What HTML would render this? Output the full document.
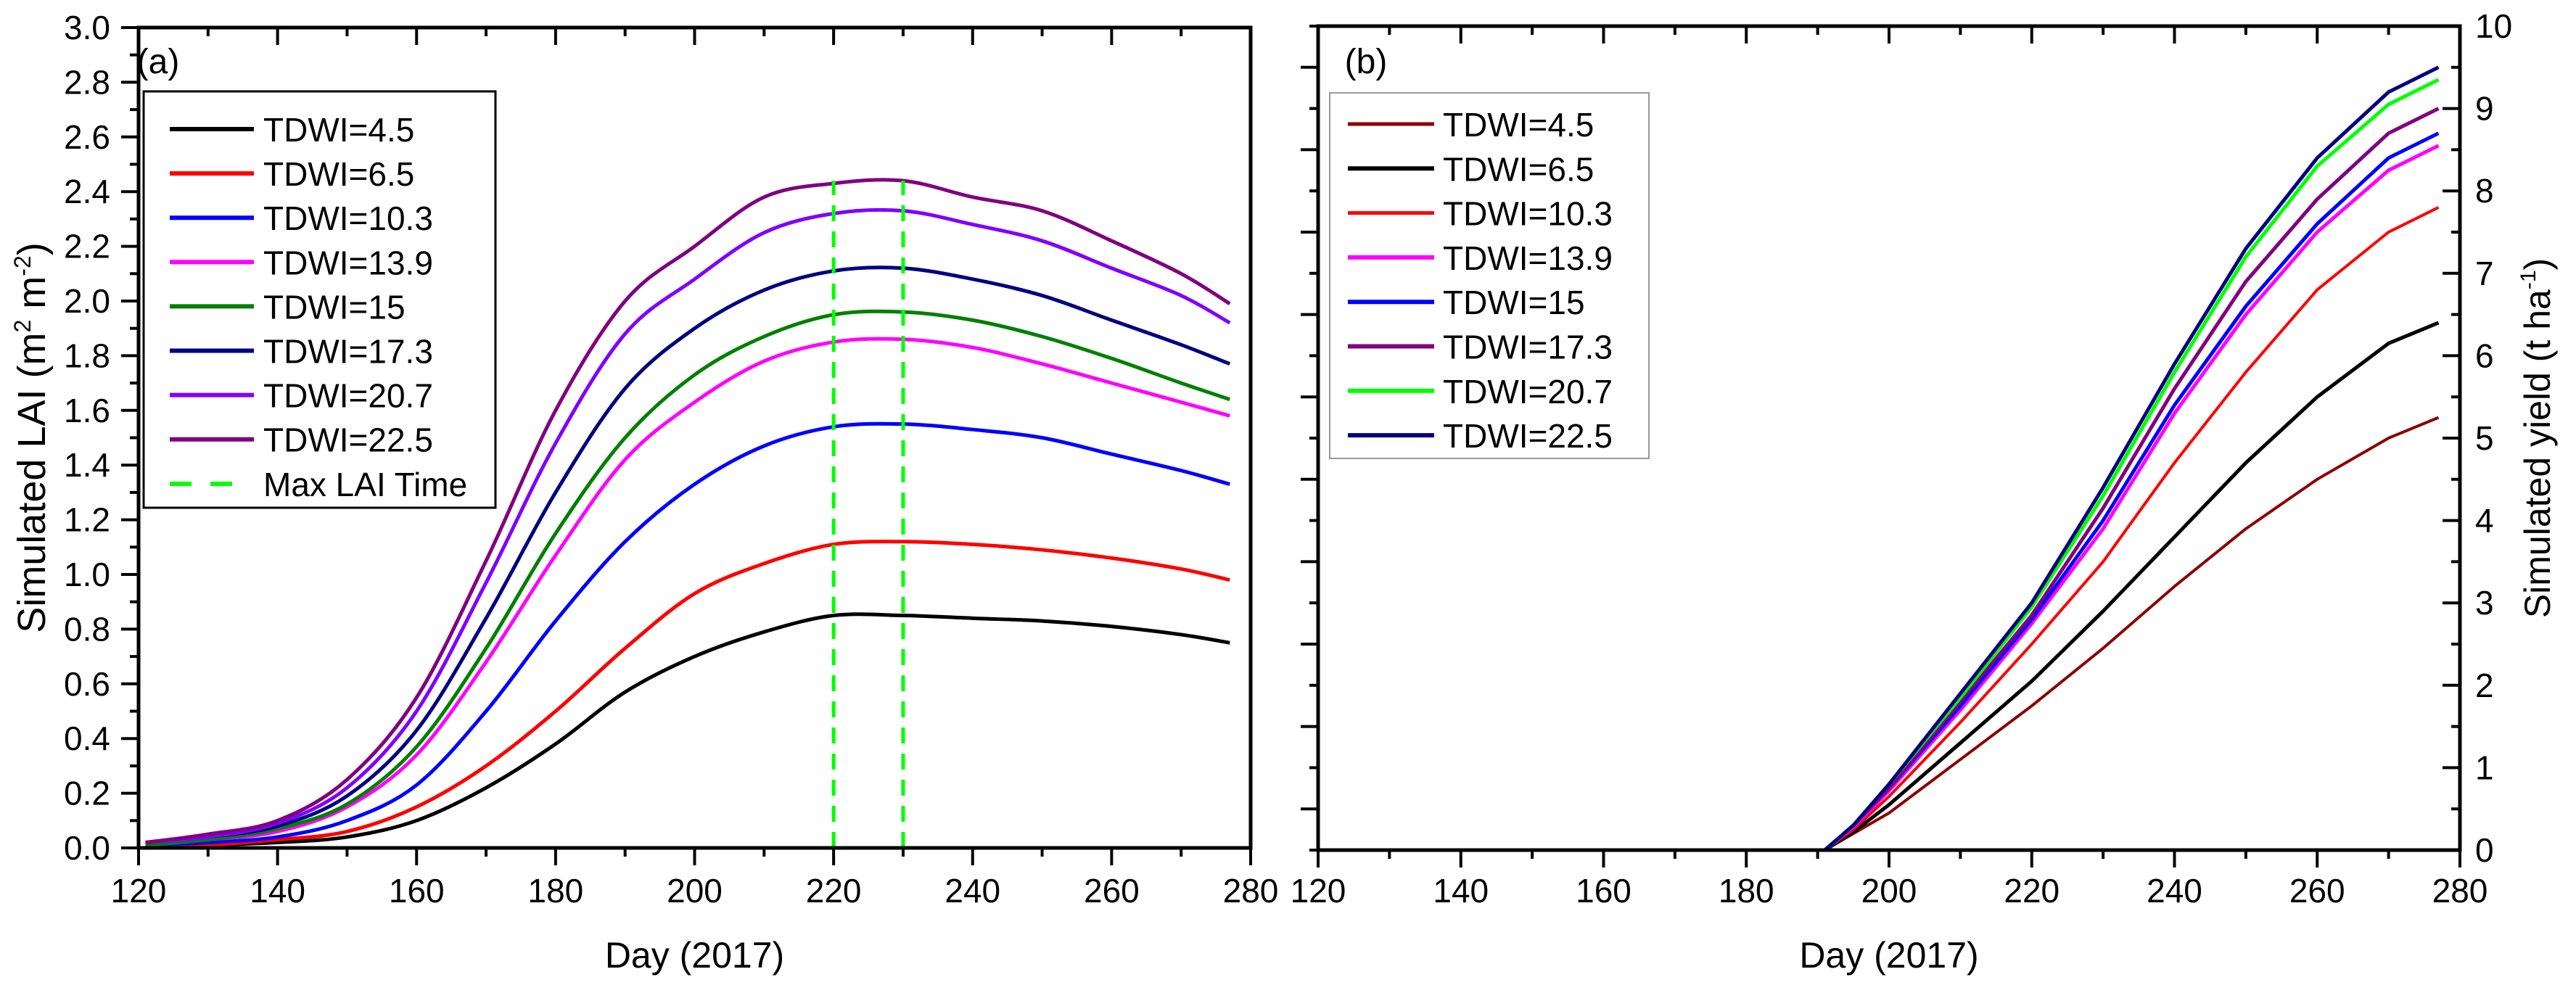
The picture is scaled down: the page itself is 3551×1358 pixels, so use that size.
<!DOCTYPE html>
<html><head><meta charset="utf-8"><style>
html,body{margin:0;padding:0;background:#fff;}
svg{display:block;font-family:"Liberation Sans",sans-serif;}
</style></head><body>
<svg id="c" width="3551" height="1358" viewBox="0 0 3551 1358" xmlns="http://www.w3.org/2000/svg"></svg>
<script>
// ---- Panel (a) data ----
const lai_days=[121,130,140,150,160,170,180,190,200,210,220,230,240,250,260,270,277];
const lai_labels=["TDWI=4.5","TDWI=6.5","TDWI=10.3","TDWI=13.9","TDWI=15","TDWI=17.3","TDWI=20.7","TDWI=22.5"];
const lai_4_5=[0.00,0.01,0.02,0.04,0.10,0.22,0.38,0.57,0.70,0.79,0.85,0.85,0.84,0.83,0.81,0.78,0.75];
const lai_6_5=[0.00,0.01,0.03,0.06,0.15,0.30,0.50,0.73,0.93,1.04,1.11,1.12,1.11,1.09,1.06,1.02,0.98];
const lai_10_3=[0.01,0.02,0.04,0.10,0.23,0.50,0.83,1.12,1.33,1.47,1.54,1.55,1.53,1.50,1.44,1.38,1.33];
const lai_13_9=[0.01,0.03,0.06,0.15,0.34,0.68,1.07,1.42,1.63,1.78,1.85,1.86,1.83,1.77,1.70,1.63,1.58];
const lai_15=[0.01,0.03,0.07,0.16,0.37,0.73,1.15,1.50,1.73,1.87,1.95,1.96,1.93,1.87,1.79,1.70,1.64];
const lai_17_3=[0.02,0.04,0.08,0.19,0.43,0.84,1.30,1.68,1.90,2.04,2.11,2.12,2.08,2.02,1.93,1.84,1.77];
const lai_20_7=[0.02,0.04,0.09,0.22,0.50,0.97,1.48,1.88,2.08,2.25,2.32,2.33,2.28,2.22,2.12,2.02,1.92];
const lai_22_5=[0.02,0.05,0.10,0.25,0.55,1.05,1.60,2.00,2.20,2.38,2.43,2.44,2.38,2.33,2.22,2.10,1.99];
const max_lai_days=[220,230];
const max_lai_value=2.44;
const x_ticks=[120,140,160,180,200,220,240,260,280];
const lai_ticks=[0,0.2,0.4,0.6,0.8,1.0,1.2,1.4,1.6,1.8,2.0,2.2,2.4,2.6,2.8,3.0];
// ---- Panel (b) data ----
const yld_days=[120,191,195,200,210,220,230,240,250,260,270,277];
const yld_4_5=[0,0,0.20,0.45,1.10,1.75,2.45,3.20,3.90,4.50,5.00,5.25];
const yld_6_5=[0,0,0.22,0.55,1.30,2.05,2.90,3.80,4.70,5.50,6.15,6.40];
const yld_10_3=[0,0,0.25,0.65,1.55,2.50,3.50,4.70,5.80,6.80,7.50,7.80];
const yld_13_9=[0,0,0.28,0.72,1.70,2.75,3.90,5.30,6.50,7.50,8.25,8.55];
const yld_15=[0,0,0.30,0.75,1.75,2.80,4.00,5.40,6.60,7.60,8.40,8.70];
const yld_17_3=[0,0,0.30,0.75,1.80,2.85,4.15,5.60,6.90,7.90,8.70,9.00];
const yld_20_7=[0,0,0.30,0.80,1.85,2.95,4.30,5.80,7.20,8.30,9.05,9.35];
const yld_22_5=[0,0,0.30,0.80,1.90,3.00,4.40,5.90,7.30,8.40,9.20,9.50];
const yld_ticks=[0,1,2,3,4,5,6,7,8,9,10];

const NS="http://www.w3.org/2000/svg";
const svg=document.getElementById('c');
function mk(tag,attrs,parent){const e=document.createElementNS(NS,tag);for(const k in attrs)e.setAttribute(k,attrs[k]);(parent||svg).appendChild(e);return e;}
function txt(s,x,y,size,anchor,parent){const t=mk('text',{x:x,y:y,'font-size':size,'text-anchor':anchor||'start',fill:'#000'},parent);t.textContent=s;return t;}
function pathD(xs,ys){let d='';for(let i=0;i<xs.length;i++){if(i===0){d+='M'+xs[0]+','+ys[0];continue;}
 const x0=xs[Math.max(i-2,0)],y0=ys[Math.max(i-2,0)],x1=xs[i-1],y1=ys[i-1],x2=xs[i],y2=ys[i],x3=xs[Math.min(i+1,xs.length-1)],y3=ys[Math.min(i+1,xs.length-1)];
 d+=' C'+(x1+(x2-x0)/6)+','+(y1+(y2-y0)/6)+' '+(x2-(x3-x1)/6)+','+(y2-(y3-y1)/6)+' '+x2+','+y2;}return d;}
function lineD(xs,ys){return xs.map((x,i)=>(i?'L':'M')+x+','+ys[i]).join(' ');}

// ===== Panel A =====
const A={l:191,r:1724,t:38,b:1169,ymax:3};
const ax=d=>A.l+(d-120)/160*(A.r-A.l);
const ay=v=>A.b-v/A.ymax*(A.b-A.t);
const gA=mk('g',{});


const aSeries=[lai_4_5,lai_6_5,lai_10_3,lai_13_9,lai_15,lai_17_3,lai_20_7,lai_22_5];
const aColors=['#000000','#ff0000','#0000ff','#ff00ff','#008000','#000080','#8000ff','#800080'];
aSeries.forEach((s,i)=>{const p=mk('path',{d:pathD(lai_days.map(ax),s.map(ay)),fill:'none',stroke:aColors[i],'stroke-width':5,'stroke-linejoin':'round'},gA);

});
max_lai_days.forEach(d=>{const l=mk('line',{x1:ax(d),x2:ax(d),y1:ay(0),y2:ay(max_lai_value),stroke:'#00ff00','stroke-width':5,'stroke-dasharray':'22,14'},gA);

});
const frA=mk('rect',{x:A.l,y:A.t,width:A.r-A.l,height:A.b-A.t,fill:'none',stroke:'#000','stroke-width':5},gA);


for(let d=120;d<=280;d+=10){const maj=x_ticks.includes(d);
 mk('line',{x1:ax(d),x2:ax(d),y1:A.b,y2:A.b+(maj?24:12),stroke:'#000','stroke-width':4},gA);
 mk('line',{x1:ax(d),x2:ax(d),y1:A.t,y2:A.t+(maj?24:12),stroke:'#000','stroke-width':4},gA);}
x_ticks.forEach(d=>{const t=txt(String(d),ax(d),1244,46,'middle',gA);

});
for(let v=0;v<=3.001;v+=0.1){const maj=Math.round(v*10)%2===0;
 mk('line',{x1:A.l,x2:A.l-(maj?24:12),y1:ay(v),y2:ay(v),stroke:'#000','stroke-width':4},gA);}
lai_ticks.forEach(v=>{const t=txt(v.toFixed(1),152,ay(v)+16,46,'end',gA);

});
const xtA=txt('Day (2017)',(A.l+A.r)/2,1334,50,'middle',gA);


const ytA=mk('text',{transform:'translate(62,'+((A.t+A.b)/2)+') rotate(-90)','font-size':54,'text-anchor':'middle',fill:'#000'},gA);
ytA.innerHTML='Simulated LAI (m<tspan dy="-20" font-size="32">2</tspan><tspan dy="20"> m</tspan><tspan dy="-20" font-size="32">-2</tspan><tspan dy="20">)</tspan>';


const laA=txt('(a)',218,101,48,'middle',gA);


const lgA=mk('g',{},gA);


mk('rect',{x:198,y:126,width:485,height:574,fill:'#fff',stroke:'#000','stroke-width':3},lgA);
lai_labels.forEach((lab,i)=>{const y=178+i*61.1;const g=mk('g',{},lgA);


mk('line',{x1:234,x2:350,y1:y,y2:y,stroke:aColors[i],'stroke-width':6},g);txt(lab,363,y+17,46,'start',g);});
{const y=667;const g=mk('g',{},lgA);


mk('line',{x1:234,x2:320,y1:y,y2:y,stroke:'#00ff00','stroke-width':6,'stroke-dasharray':'30,26'},g);txt('Max LAI Time',363,y+17,46,'start',g);}

// ===== Panel B =====
const B={l:1817,r:3391,t:36,b:1172,ymax:10};
const bx=d=>B.l+(d-120)/160*(B.r-B.l);
const by=v=>B.b-v/B.ymax*(B.b-B.t);
const gB=mk('g',{});


const bSeries=[yld_4_5,yld_6_5,yld_10_3,yld_13_9,yld_15,yld_17_3,yld_20_7,yld_22_5];
const bColors=['#8b0000','#000000','#ff0000','#ff00ff','#0000ff','#800080','#00ff00','#000080'];
const bWidth=[4,5,4,5,5,5,5,5];
bSeries.forEach((s,i)=>{const p=mk('path',{d:lineD(yld_days.map(bx),s.map(by)),fill:'none',stroke:bColors[i],'stroke-width':bWidth[i],'stroke-linejoin':'round'},gB);

});
const frB=mk('rect',{x:B.l,y:B.t,width:B.r-B.l,height:B.b-B.t,fill:'none',stroke:'#000','stroke-width':5},gB);


for(let d=120;d<=280;d+=10){const maj=x_ticks.includes(d);
 mk('line',{x1:bx(d),x2:bx(d),y1:B.b,y2:B.b+(maj?24:12),stroke:'#000','stroke-width':4},gB);
 mk('line',{x1:bx(d),x2:bx(d),y1:B.t,y2:B.t+(maj?24:12),stroke:'#000','stroke-width':4},gB);}
x_ticks.forEach(d=>{const t=txt(String(d),bx(d),1244,46,'middle',gB);

});
for(let k=0;k<=20;k++){const v=k/2;const maj=k%2===0;
 mk('line',{x1:B.r,x2:B.r-(maj?24:12),y1:by(v),y2:by(v),stroke:'#000','stroke-width':4},gB);
 mk('line',{x1:B.l,x2:B.l-(maj?12:24),y1:by(v),y2:by(v),stroke:'#000','stroke-width':4},gB);}
yld_ticks.forEach(v=>{const t=txt(String(v),3412,by(v)+16,46,'start',gB);

});
const xtB=txt('Day (2017)',(B.l+B.r)/2,1334,50,'middle',gB);


const ytB=mk('text',{transform:'translate(3515,'+((B.t+B.b)/2)+') rotate(-90)','font-size':50,'text-anchor':'middle',fill:'#000'},gB);
ytB.innerHTML='Simulated yield (t ha<tspan dy="-20" font-size="30">-1</tspan><tspan dy="20">)</tspan>';


const laB=txt('(b)',1883,101,48,'middle',gB);


const lgB=mk('g',{},gB);


mk('rect',{x:1833,y:128,width:440,height:504,fill:'#fff',stroke:'#999','stroke-width':2},lgB);
lai_labels.forEach((lab,i)=>{const y=171+i*61.3;const g=mk('g',{},lgB);


mk('line',{x1:1858,x2:1977,y1:y,y2:y,stroke:bColors[i],'stroke-width':bWidth[i]+1},g);txt(lab,1989,y+17,46,'start',g);});
</script>
</body></html>
